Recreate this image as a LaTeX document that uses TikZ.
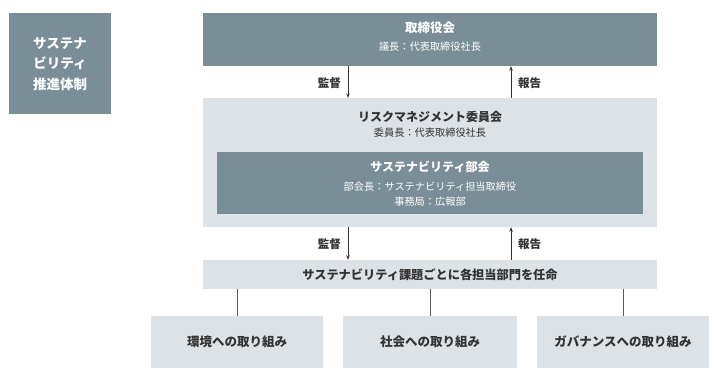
\documentclass[tikz,border=0pt]{standalone}
\usepackage{fontspec}
\setmainfont{Noto Sans CJK JP}
\usetikzlibrary{arrows.meta}
\definecolor{darkbox}{RGB}{122,142,151}
\definecolor{lightbox}{RGB}{221,226,231}
\definecolor{txt}{RGB}{51,51,51}
\tikzset{
  dk/.style={fill=darkbox,draw=none,inner sep=0pt},
  lt/.style={fill=lightbox,draw=none,inner sep=0pt},
  wt/.style={text=white,inner sep=0pt,align=center},
  bt/.style={text=txt,inner sep=0pt,align=center},
  arr/.style={draw=txt,line width=0.9pt,-{Stealth[length=4.5pt,width=3.5pt]}},
  ln/.style={draw=txt!80,line width=0.9pt},
  subf/.style={font=\fontsize{10.2}{12}\selectfont},
  lab/.style={bt,font=\fontsize{11.5}{13}\selectfont\bfseries},
}
\begin{document}
\begin{tikzpicture}[x=1pt,y=-1pt]
\useasboundingbox (0,0) rectangle (715,382);
% left box
\node[dk,minimum width=102pt,minimum height=101pt] (left) at (60,63.5) {};
\node[wt,font=\fontsize{13.5}{20.5}\selectfont\bfseries] (lefttxt) at (60,64) {サステナ\\ビリティ\\推進体制};
% top box
\node[dk,minimum width=454pt,minimum height=53pt] (board) at (430,39.5) {};
\node[wt,font=\fontsize{12.5}{14}\selectfont\bfseries] (boardt) at (430,28) {取締役会};
\node[wt,subf] (boards) at (430,47) {議長：代表取締役社長};
% risk committee
\node[lt,minimum width=454pt,minimum height=129pt] (risk) at (430,162.5) {};
\node[bt,font=\fontsize{12}{14}\selectfont\bfseries] (riskt) at (430,117) {リスクマネジメント委員会};
\node[bt,subf] (risks) at (430,133) {委員長：代表取締役社長};
% sustainability subcommittee
\node[dk,minimum width=426pt,minimum height=62pt] (sub) at (430,183) {};
\node[wt,font=\fontsize{12}{14}\selectfont\bfseries] (subt) at (430,167) {サステナビリティ部会};
\node[wt,subf] (subs1) at (430,187) {部会長：サステナビリティ担当取締役};
\node[wt,subf] (subs2) at (430,202) {事務局：広報部};
% band
\node[lt,minimum width=454pt,minimum height=29pt] (band) at (430,274.5) {};
\node[bt,font=\fontsize{12.2}{14}\selectfont\bfseries] (bandt) at (430,274.5) {サステナビリティ課題ごとに各担当部門を任命};
% bottom boxes
\node[lt,minimum width=172pt,minimum height=52pt] (env) at (237,342) {};
\node[lt,minimum width=174pt,minimum height=52pt] (soc) at (430,342) {};
\node[lt,minimum width=172pt,minimum height=52pt] (gov) at (623,342) {};
\node[bt,font=\fontsize{12.5}{14}\selectfont\bfseries] (envt) at (237,342) {環境への取り組み};
\node[bt,font=\fontsize{12.5}{14}\selectfont\bfseries] (soct) at (430,342) {社会への取り組み};
\node[bt,font=\fontsize{12.5}{14}\selectfont\bfseries] (govt) at (623,342) {ガバナンスへの取り組み};
% arrows
\draw[arr] (board.south -| 348,0) -- (risk.north -| 348,0);
\draw[arr] (risk.north -| 511,0) -- (board.south -| 511,0);
\draw[arr] (risk.south -| 348,0) -- (band.north -| 348,0);
\draw[arr] (band.north -| 511,0) -- (risk.south -| 511,0);
\node[lab,anchor=east] (l1) at (341,83) {監督};
\node[lab,anchor=west] (l2) at (518,83) {報告};
\node[lab,anchor=east] (l3) at (341,244) {監督};
\node[lab,anchor=west] (l4) at (518,244) {報告};
% lines
\draw[ln] (band.south -| env.north) -- (env.north);
\draw[ln] (band.south -| soc.north) -- (soc.north);
\draw[ln] (band.south -| gov.north) -- (gov.north);
\end{tikzpicture}
\end{document}
